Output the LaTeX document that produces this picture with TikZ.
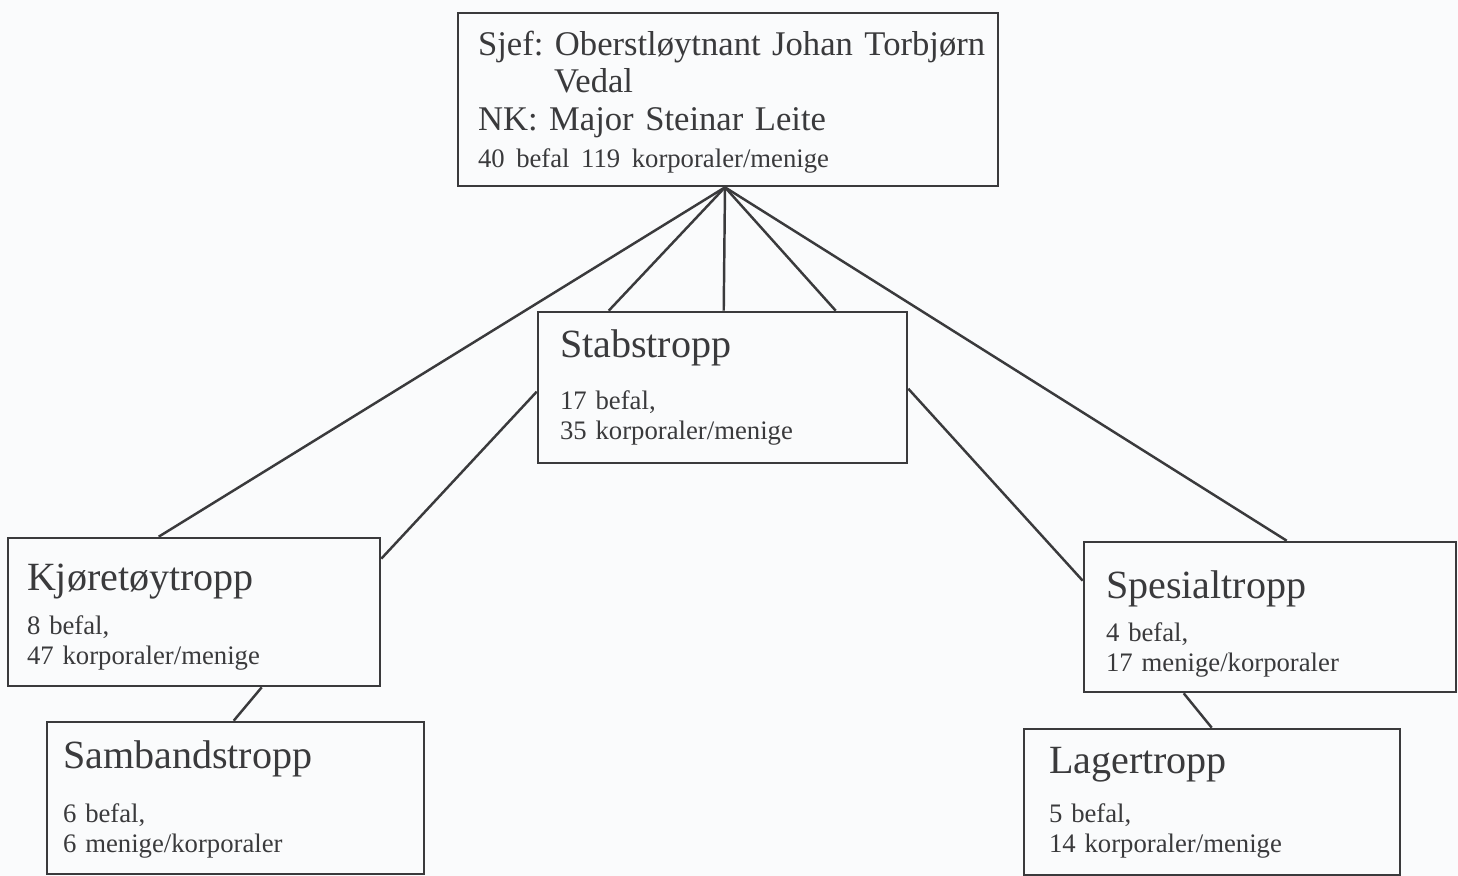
\documentclass[tikz,border=0pt]{standalone}
\usepackage{fontspec}
\setmainfont{Liberation Serif}
\usetikzlibrary{calc}
\definecolor{papir}{RGB}{250,251,252}
\definecolor{blekk}{RGB}{58,58,60}
\newcommand\overskrift{\fontsize{22.8}{26}\selectfont}
\newcommand\liten{\fontsize{15.2}{17}\selectfont}
\newcommand\sjeffont{\fontsize{19.7}{21.4}\selectfont}
\frenchspacing
\tikzset{
  tropp/.style={draw=blekk, text=blekk, line width=1.5pt, inner ysep=0pt, align=left, font=\liten},
  linje/.style={draw=blekk, line width=1.4pt}
}

\begin{document}
\begin{tikzpicture}[x=0.02cm, y=-0.02cm]
			%%%%% START %%%%%
			
			\fill[papir] (0,0) rectangle (1458,876);
			\useasboundingbox (0,0) rectangle (1458,876);
			
			\node[tropp, font=\sjeffont, inner xsep=0.4cm, text width=10cm, text height=0.84cm, text depth=2.62cm] (sjef) at (728,99.5)
				{\mbox{Sjef: Oberstløytnant Johan Torbjørn}\\
				\hspace*{2.2em}Vedal\\
				NK: Major Steinar Leite\\
				{\liten 40 befal 119 korporaler/menige}};
			
			\node[tropp, inner xsep=0.44cm, text width=6.5cm, text height=0.9cm, text depth=2.12cm] (stab) at (722.5,387.5)
				{{\overskrift Stabstropp}\\[13pt]17 befal,\\35 korporaler/menige};
			
			\node[tropp, inner xsep=0.38cm, text width=6.68cm, text height=1.04cm, text depth=1.92cm] (kjore) at (194,612)
				{{\overskrift Kjøretøytropp}\\[8.5pt]8 befal,\\47 korporaler/menige};
			\node[tropp, inner xsep=0.32cm, text width=6.9cm, text height=0.92cm, text depth=2.12cm] (samb) at (235.5,798)
				{{\overskrift Sambandstropp}\\[14pt]6 befal,\\6 menige/korporaler};
			
			\node[tropp, inner xsep=0.44cm, text width=6.56cm, text height=1.12cm, text depth=1.88cm] (spes) at (1270,617)
				{{\overskrift Spesialtropp}\\[8pt]4 befal,\\17 menige/korporaler};
			\node[tropp, inner xsep=0.5cm, text width=6.52cm, text height=0.88cm, text depth=2.04cm] (lager) at (1212,802)
				{{\overskrift Lagertropp}\\[11pt]5 befal,\\14 korporaler/menige};
			
			\coordinate (topp) at ($(sjef.south)+(-3,0)$);
			
			\draw[linje] (topp) -- ($(kjore.north west)+(152,0)$);
			\draw[linje] (topp) -- ($(stab.north west)+(72,0)$);
			\draw[linje] (topp) -- ($(stab.north west)+(187,0)$);
			\draw[linje] (topp) -- ($(stab.north west)+(299,0)$);
			\draw[linje] (topp) -- ($(spes.north west)+(204,0)$);
			
			\draw[linje] ($(kjore.north east)+(0,22)$) -- ($(stab.north west)+(0,81)$);
			\draw[linje] ($(stab.north east)+(0,78)$) -- ($(spes.north west)+(0,40)$);
			
			\draw[linje] ($(kjore.south west)+(255,0)$) -- ($(samb.north west)+(188,0)$);
			\draw[linje] ($(spes.south west)+(101,0)$) -- ($(lager.north west)+(189,0)$);
			
			%%%%% END %%%%%
\end{tikzpicture}
\end{document}
